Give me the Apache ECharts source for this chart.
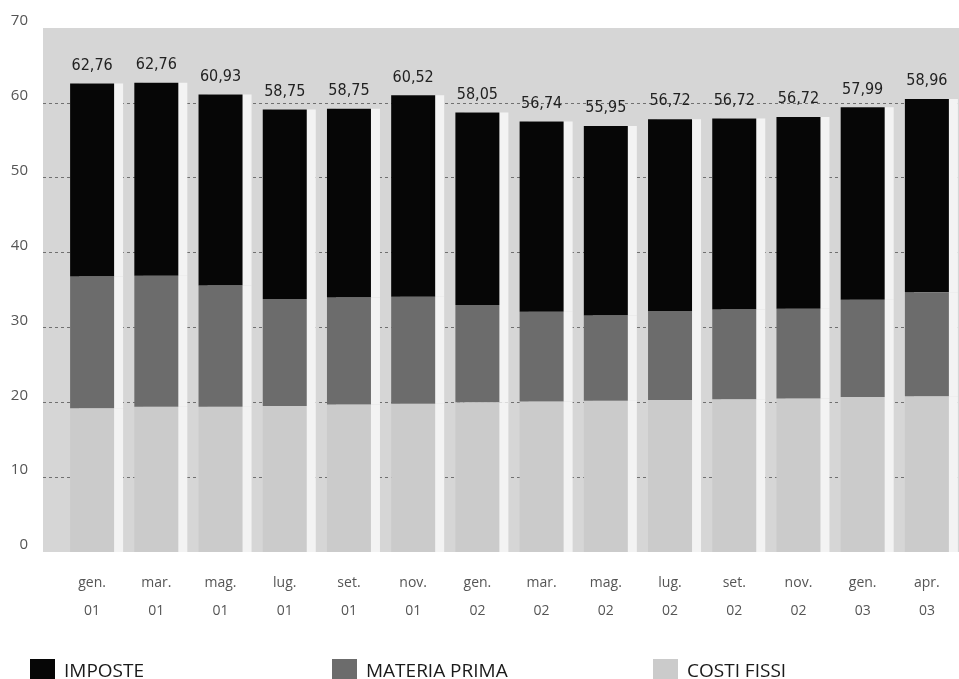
<!DOCTYPE html>
<html>
<head>
<meta charset="utf-8">
<script src="https://cdn.jsdelivr.net/npm/echarts@6/dist/echarts.min.js"></script>
<style>
html,body{margin:0;padding:0;background:#ffffff;}
#chart{width:959px;height:679px;}
</style>
</head>
<body>
<div id="chart"></div>
<script>
// ---- data ----
const categories = ['gen.\n01','mar.\n01','mag.\n01','lug.\n01','set.\n01','nov.\n01','gen.\n02','mar.\n02','mag.\n02','lug.\n02','set.\n02','nov.\n02','gen.\n03','apr.\n03'];
const costiFissi   = [19.2,19.4,19.4,19.5,19.7,19.8,20.0,20.1,20.2,20.3,20.4,20.5,20.7,20.8];
const materiaPrima = [17.6,17.5,16.2,14.3,14.3,14.3,13.0,12.0,11.4,11.9,12.0,12.0,13.0,13.9];
const imposte      = [25.8,25.8,25.5,25.3,25.2,26.9,25.7,25.4,25.3,25.6,25.5,25.6,25.7,25.8];
const totalLabels  = ['62,76','62,76','60,93','58,75','58,75','60,52','58,05','56,74','55,95','56,72','56,72','56,72','57,99','58,96'];
const yMin = 0, yMax = 70, yStep = 10;
const seriesNames = ['IMPOSTE','MATERIA PRIMA','COSTI FISSI'];

const colImposte = '#060606';
const colMateria = '#6c6c6c';
const colCosti = '#cbcbcb';

const chart = echarts.init(document.getElementById('chart'), null, {renderer:'canvas'});

const barStyle = (c) => ({
  color: c,
  borderWidth: 0,
  shadowColor: '#f3f3f3',
  shadowBlur: 0,
  shadowOffsetX: 9,
  shadowOffsetY: 0
});

const legendCommon = {
  top: 654,
  itemWidth: 25,
  itemHeight: 25,
  itemGap: 0,
  icon: 'rect',
  selectedMode: false,
  textStyle: {fontFamily: 'Open Sans', fontSize: 19, color: '#1a1a1a', padding: [0,0,0,4]}
};

chart.setOption({
  animation: false,
  backgroundColor: '#ffffff',
  grid: [
    {left: 43, right: 0, top: 28, bottom: 127, show: true, backgroundColor: '#d6d6d6', borderWidth: 0},
    {left: 60, width: 901, top: 28, bottom: 127, show: false}
  ],
  legend: [
    Object.assign({left: 25, data: [seriesNames[0]]}, legendCommon),
    Object.assign({left: 327, data: [seriesNames[1]]}, legendCommon),
    Object.assign({left: 648, data: [seriesNames[2]]}, legendCommon)
  ],
  xAxis: [
    {type: 'value', gridIndex: 0, min: 0, max: 1, show: false},
    {
      type: 'category', gridIndex: 1, data: categories,
      axisLine: {show: false}, axisTick: {show: false},
      axisLabel: {
        margin: 17, fontFamily: 'Open Sans', fontSize: 14, lineHeight: 28,
        color: '#555555', interval: 0
      }
    }
  ],
  yAxis: [
    {
      type: 'value', gridIndex: 0, min: yMin, max: yMax, interval: yStep,
      axisLine: {show: false}, axisTick: {show: false},
      axisLabel: {
        margin: 15, fontFamily: 'Open Sans', fontSize: 15, color: '#555555',
        verticalAlign: 'bottom', lineHeight: 14
      },
      splitLine: {
        show: true,
        lineStyle: {
          type: [3, 3], width: 1,
          color: ['rgba(0,0,0,0)','#707070','#707070','#707070','#707070','#707070','#707070','rgba(0,0,0,0)']
        }
      }
    },
    {type: 'value', gridIndex: 1, min: yMin, max: yMax, interval: yStep, show: false, splitLine: {show: false}}
  ],
  series: [
    {
      name: seriesNames[2], type: 'bar', stack: 'tot', xAxisIndex: 1, yAxisIndex: 1,
      barWidth: 44, data: costiFissi, itemStyle: barStyle(colCosti)
    },
    {
      name: seriesNames[1], type: 'bar', stack: 'tot', xAxisIndex: 1, yAxisIndex: 1,
      barWidth: 44, data: materiaPrima, itemStyle: barStyle(colMateria)
    },
    {
      name: seriesNames[0], type: 'bar', stack: 'tot', xAxisIndex: 1, yAxisIndex: 1,
      barWidth: 44, data: imposte, itemStyle: barStyle(colImposte),
      label: {
        show: true, position: 'top', distance: 10,
        fontFamily: 'DejaVu Sans Condensed', fontSize: 16, color: '#222222',
        formatter: (p) => totalLabels[p.dataIndex]
      }
    }
  ]
});
</script>
</body>
</html>
